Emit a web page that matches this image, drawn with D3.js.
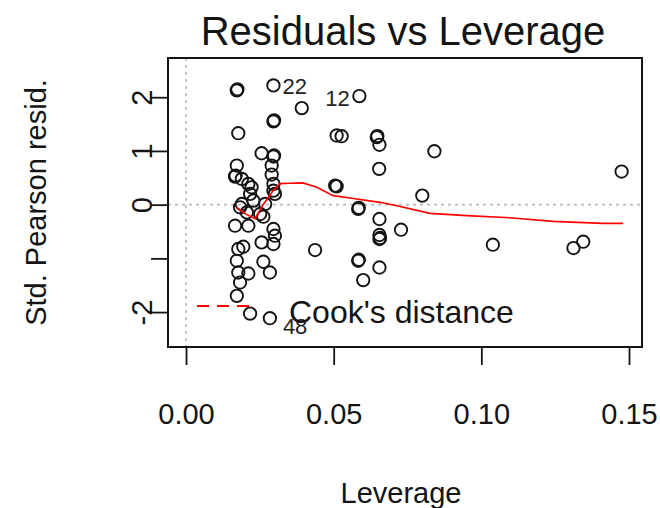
<!DOCTYPE html>
<html>
<head>
<meta charset="utf-8">
<script src="https://cdn.jsdelivr.net/npm/d3@7/dist/d3.min.js"></script>
<style>
  html, body { margin: 0; padding: 0; background: #fff; }
  svg { display: block; font-family: "Liberation Sans", Arial, sans-serif; }
</style>
</head>
<body>
<svg id="chart" width="660" height="508"></svg>
<script>
// Leverage (hat values) of each observation
const leverage = [
  0.0172, 0.0174, 0.0296, 0.0392, 0.0296, 0.0298, 0.0177, 0.0510, 0.0256, 0.0296,
  0.0298, 0.0290, 0.0172, 0.0290, 0.0166, 0.0168, 0.0189, 0.0211, 0.0222, 0.0296,
  0.0505, 0.0217, 0.0296, 0.0228, 0.0301, 0.0189, 0.0268, 0.0183, 0.0206, 0.0251,
  0.0262, 0.0166, 0.0211, 0.0296, 0.0301, 0.0256, 0.0296, 0.0437, 0.0177, 0.0194,
  0.0172, 0.0262, 0.0284, 0.0177, 0.0211, 0.0183, 0.0172, 0.0217, 0.0284, 0.0587,
  0.0527, 0.0646, 0.0648, 0.0655, 0.0841, 0.0654, 0.1475, 0.0510, 0.0800, 0.0583,
  0.0585, 0.0655, 0.0728, 0.0655, 0.0655, 0.0657, 0.1039, 0.1312, 0.1345, 0.0583,
  0.0585, 0.0655, 0.0600
];
// Standardized Pearson residuals, same order
const stdResid = [
  2.127, 2.147, 2.220, 1.797, 1.549, 1.569, 1.330, 1.287, 0.957, 0.896,
  0.916, 0.728, 0.728, 0.560, 0.522, 0.542, 0.479, 0.386, 0.323, 0.386,
  0.354, 0.200, 0.261, 0.075, 0.200, 0.013, 0.013, -0.050, -0.144, -0.174,
  -0.224, -0.392, -0.392, -0.453, -0.578, -0.703, -0.733, -0.845, -0.826, -0.784,
  -1.045, -1.063, -1.263, -1.263, -1.282, -1.450, -1.698, -2.028, -2.114, 2.021,
  1.274, 1.256, 1.276, 1.114, 0.994, 0.666, 0.616, 0.341, 0.168, -0.080,
  -0.060, -0.267, -0.466, -0.565, -0.640, -0.620, -0.746, -0.808, -0.690, -1.045,
  -1.025, -1.170, -1.405
];
// Observations flagged with their row number
const flagIndex = [2, 49, 48];
const flagLabel = ["22", "12", "48"];

// Loess smoother through the residuals
const smoothLev = [0.0172, 0.0200, 0.0234, 0.0260, 0.0295, 0.0318, 0.0352, 0.0396, 0.0443, 0.0498,
                   0.0555, 0.0657, 0.0714, 0.0826, 0.0951, 0.1107, 0.1243, 0.1412, 0.1480];
const smoothRes = [-0.050, -0.168, -0.261, -0.010, 0.261, 0.392, 0.397, 0.405, 0.323, 0.168,
                   0.125, 0.043, -0.019, -0.162, -0.205, -0.248, -0.312, -0.349, -0.349];

// Axis ticks
const xTicks = [0.00, 0.05, 0.10, 0.15];
const xTickLabels = ["0.00", "0.05", "0.10", "0.15"];
const yTicks = [-2, -1, 0, 1, 2];
const yTickLabels = ["-2", "", "0", "1", "2"];

const svg = d3.select("#chart");
const box = { left: 168, right: 642, top: 58, bottom: 347 };

const x = d3.scaleLinear().domain([-0.0061, 0.1544]).range([box.left, box.right]);
const y = d3.scaleLinear().domain([-2.65, 2.73]).range([box.bottom, box.top]);

const ink = "#141414";

// Reference lines at zero leverage and zero residual
svg.append("line")
  .attr("x1", x(0)).attr("x2", x(0))
  .attr("y1", box.top).attr("y2", box.bottom)
  .attr("stroke", "#b8b8b8").attr("stroke-width", 1.6).attr("stroke-dasharray", "3,4");
svg.append("line")
  .attr("x1", box.left).attr("x2", box.right)
  .attr("y1", y(0)).attr("y2", y(0))
  .attr("stroke", "#b8b8b8").attr("stroke-width", 1.6).attr("stroke-dasharray", "3,4");

// Points
svg.append("g").selectAll("circle")
  .data(leverage.map((h, i) => [h, stdResid[i]]))
  .join("circle")
  .attr("cx", d => x(d[0]))
  .attr("cy", d => y(d[1]))
  .attr("r", 6.2)
  .attr("fill", "none")
  .attr("stroke", ink)
  .attr("stroke-width", 1.9);

// Smoother
svg.append("path")
  .datum(smoothLev.map((h, i) => [h, smoothRes[i]]))
  .attr("d", d3.line().x(d => x(d[0])).y(d => y(d[1])))
  .attr("fill", "none")
  .attr("stroke", "#ff0000")
  .attr("stroke-width", 1.6);

// Labels of flagged observations
const flagDx = [9, -34, 13];
const flagDy = [9, 10, 16];
svg.append("g").selectAll("text")
  .data(flagIndex)
  .join("text")
  .attr("x", (d, i) => x(leverage[d]) + flagDx[i])
  .attr("y", (d, i) => y(stdResid[d]) + flagDy[i])
  .attr("font-size", 22)
  .attr("fill", "#222")
  .text((d, i) => flagLabel[i]);

// Plot frame
svg.append("rect")
  .attr("x", box.left).attr("y", box.top)
  .attr("width", box.right - box.left).attr("height", box.bottom - box.top)
  .attr("fill", "none").attr("stroke", ink).attr("stroke-width", 2);

// X axis
const xAxis = svg.append("g")
  .attr("transform", `translate(0,${box.bottom})`)
  .call(d3.axisBottom(x).tickValues(xTicks).tickFormat((d, i) => xTickLabels[i])
    .tickSize(18).tickPadding(0));
xAxis.select(".domain").remove();
xAxis.selectAll(".tick line").attr("stroke", ink).attr("stroke-width", 1.8);
xAxis.selectAll(".tick text")
  .attr("dy", null).attr("y", 77)
  .attr("font-size", 29).attr("fill", ink).attr("font-family", null);

// Y axis with labels parallel to the axis
const yAxis = svg.append("g")
  .attr("transform", `translate(${box.left},0)`)
  .call(d3.axisLeft(y).tickValues(yTicks).tickFormat((d, i) => yTickLabels[i])
    .tickSize(17).tickPadding(0));
yAxis.select(".domain").remove();
yAxis.selectAll(".tick line").attr("stroke", ink).attr("stroke-width", 1.8);
yAxis.selectAll(".tick text")
  .attr("x", null).attr("dy", null)
  .attr("transform", "translate(-16,0) rotate(-90)")
  .attr("text-anchor", "middle")
  .attr("font-size", 29).attr("fill", ink).attr("font-family", null);

// Titles
svg.append("text")
  .attr("x", 403).attr("y", 45)
  .attr("text-anchor", "middle")
  .attr("font-size", 40).attr("fill", ink)
  .text("Residuals vs Leverage");
svg.append("text")
  .attr("x", 401).attr("y", 503)
  .attr("text-anchor", "middle")
  .attr("font-size", 29).attr("fill", ink)
  .text("Leverage");
svg.append("text")
  .attr("transform", `translate(46,${(box.top + box.bottom) / 2}) rotate(-90)`)
  .attr("text-anchor", "middle")
  .attr("font-size", 29).attr("fill", ink)
  .text("Std. Pearson resid.");

// Legend for Cook's distance contours
const legend = svg.append("g");
legend.append("line")
  .attr("x1", 197).attr("x2", 251).attr("y1", 306).attr("y2", 306)
  .attr("stroke", "#ff0000").attr("stroke-width", 1.8).attr("stroke-dasharray", "12,8");
legend.append("text")
  .attr("x", 289).attr("y", 323)
  .attr("font-size", 32).attr("fill", ink)
  .text("Cook's distance");
</script>
</body>
</html>
